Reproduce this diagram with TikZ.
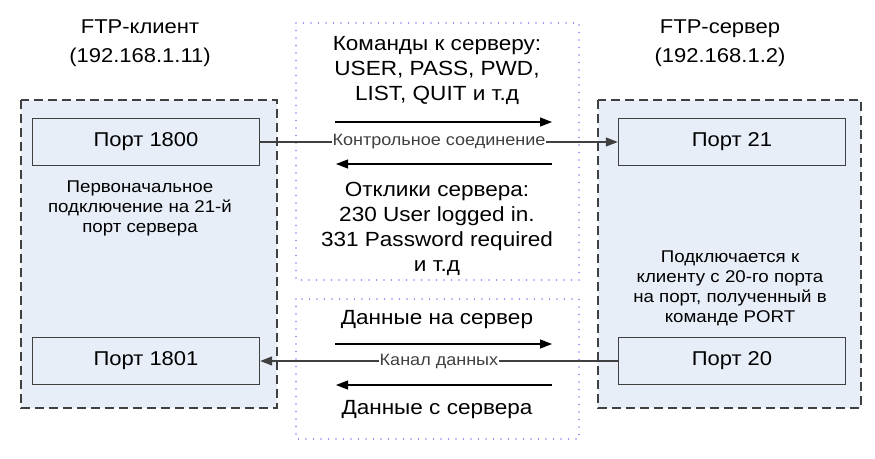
\documentclass[tikz,border=0pt]{standalone}
\usepackage{fontspec}
\setmainfont[FakeStretch=1.1]{Liberation Sans}
\usetikzlibrary{arrows.meta,positioning}
\definecolor{hostfill}{HTML}{E8EEF8}
\definecolor{dotblue}{HTML}{8585EE}
\definecolor{edgegray}{HTML}{404040}
\tikzset{
  hostarea/.style={draw=edgegray, fill=hostfill, line width=1.6pt, dash pattern=on 9pt off 5pt},
  chanarea/.style={draw=dotblue, line width=1.8pt, line cap=round, dash pattern=on 0pt off 7.5pt},
  portbox/.style={draw=edgegray, fill=hostfill, line width=1.4pt, minimum width=227pt, minimum height=47pt, font=\fontsize{20}{22}\selectfont},
  headtext/.style={align=center, font=\fontsize{20}{28.5}\selectfont},
  midtext/.style={align=center, font=\fontsize{20.5}{25}\selectfont},
  notetext/.style={align=center, font=\fontsize{17}{20}\selectfont},
  linklabel/.style={fill=white, inner sep=1pt, font=\fontsize{16.4}{18}\selectfont},
  flow/.style={line width=1.2pt, -{Triangle[length=12pt,width=9pt]}},
  link/.style={line width=1.2pt, edgegray}
}
\begin{document}
\begin{tikzpicture}[x=1pt, y=-1pt]
  \useasboundingbox (0,0) rectangle (875,458);
  % areas
  \draw[hostarea] (21,100) rectangle (277,408);
  \draw[hostarea] (598,100) rectangle (861,408);
  \draw[chanarea] (296,23) rectangle (579,280);
  \draw[chanarea] (296,299) rectangle (579,439);

  % hosts
  \node[headtext] (client) at (140,43) {FTP-клиент\\(192.168.1.11)};
  \node[headtext] (server) at (720,43) {FTP-сервер\\(192.168.1.2)};

  \node[portbox] (p1800) at (146,142) {Порт 1800};
  \node[portbox] (p1801) at (146,361) {Порт 1801};
  \node[portbox] (p21) at (732,142) {Порт 21};
  \node[portbox] (p20) at (732,361) {Порт 20};

  \node[notetext] (clientnote) at (140,208) {Первоначальное\\подключение на 21-й\\порт сервера};
  \node[notetext] (servernote) at (730,288) {Подключается к\\клиенту с 20-го порта\\на порт, полученный в\\команде PORT};

  % control connection
  \node[midtext] (cmds) at (437,70) {Команды к серверу:\\USER, PASS, PWD,\\LIST, QUIT и т.д};
  \node[midtext] (replies) at (437,229) {Отклики сервера:\\230 User logged in.\\331 Password required\\и т.д};
  \coordinate (cmdA) at (335,122);
  \coordinate (cmdB) at (552,122);
  \coordinate (repA) at (552,164);
  \coordinate (repB) at (336,164);
  \draw[flow] (cmdA) -- (cmdB);
  \draw[flow] (repA) -- (repB);
  \draw[link, -{Triangle[length=12pt,width=9pt]}] (p1800.east) -- (p21.west)
    node[midway, linklabel] {Контрольное соединение};

  % data connection
  \node[midtext] (todata) at (437,320) {Данные на сервер};
  \node[midtext] (fromdata) at (437,410) {Данные с сервера};
  \coordinate (upA) at (335,344);
  \coordinate (upB) at (552,344);
  \coordinate (downA) at (552,385);
  \coordinate (downB) at (336,385);
  \draw[flow] (upA) -- (upB);
  \draw[flow] (downA) -- (downB);
  \draw[link, -{Triangle[length=12pt,width=9pt]}] (p20.west) -- (p1801.east)
    node[midway, linklabel] {Канал данных};
\end{tikzpicture}
\end{document}
